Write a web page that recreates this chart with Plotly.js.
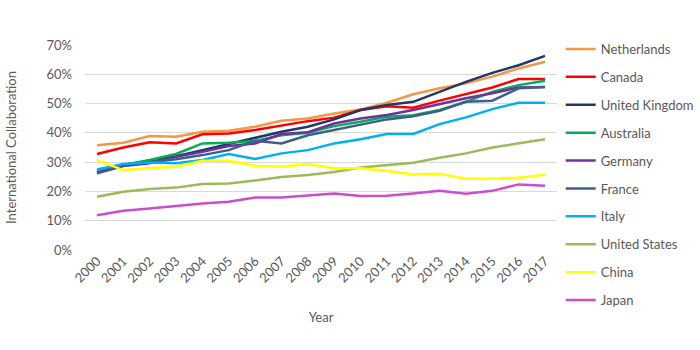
<!DOCTYPE html>
<html>
<head>
<meta charset="utf-8">
<script src="https://cdn.plot.ly/plotly-3.0.1.min.js"></script>
<style>html,body{margin:0;padding:0;background:#fff}#chart{width:700px;height:350px}</style>
</head>
<body>
<div id="chart"></div>
<script>
const years = ["2000","2001","2002","2003","2004","2005","2006","2007","2008","2009","2010","2011","2012","2013","2014","2015","2016","2017"];
const netherlands   = [0.358,0.366,0.389,0.387,0.404,0.407,0.421,0.441,0.449,0.466,0.480,0.503,0.532,0.552,0.569,0.592,0.620,0.643];
const canada        = [0.328,0.350,0.368,0.364,0.395,0.398,0.410,0.425,0.440,0.452,0.478,0.491,0.486,0.510,0.532,0.555,0.584,0.584];
const unitedKingdom = [0.265,0.288,0.305,0.320,0.341,0.362,0.381,0.404,0.421,0.446,0.478,0.495,0.506,0.540,0.574,0.605,0.631,0.663];
const australia     = [0.270,0.290,0.307,0.328,0.364,0.366,0.372,0.392,0.400,0.423,0.438,0.455,0.460,0.478,0.506,0.540,0.563,0.578];
const germany       = [0.262,0.287,0.296,0.318,0.335,0.355,0.364,0.396,0.402,0.432,0.449,0.461,0.478,0.498,0.518,0.535,0.555,0.557];
const france        = [0.265,0.290,0.300,0.310,0.324,0.341,0.373,0.364,0.392,0.410,0.427,0.446,0.457,0.475,0.506,0.510,0.552,0.557];
const italy         = [0.275,0.294,0.299,0.296,0.307,0.328,0.311,0.330,0.341,0.364,0.378,0.396,0.396,0.430,0.453,0.481,0.503,0.503];
const unitedStates  = [0.182,0.199,0.208,0.213,0.225,0.227,0.237,0.249,0.256,0.266,0.282,0.290,0.298,0.315,0.330,0.350,0.364,0.378];
const china         = [0.307,0.273,0.279,0.284,0.305,0.305,0.288,0.284,0.294,0.279,0.279,0.271,0.258,0.260,0.243,0.243,0.247,0.257];
const japan         = [0.119,0.134,0.142,0.151,0.159,0.165,0.179,0.179,0.185,0.193,0.184,0.185,0.193,0.202,0.192,0.202,0.224,0.219];

const names  = ["Netherlands","Canada","United Kingdom","Australia","Germany","France","Italy","United States","China","Japan"];
const series = [netherlands,canada,unitedKingdom,australia,germany,france,italy,unitedStates,china,japan];
const colors = ["#F79646","#FF0000","#1F3864","#00B050","#7030A0","#3D5F8F","#00B0F0","#9BBB59","#FFFF00","#CC4DCC"];

const traces = series.map((vals,i)=>({
  x: years, y: vals, name: names[i], type: "scatter", mode: "lines",
  legendgroup: "g"+i,
  line: {color: colors[i], width: 2.5},
  hoverinfo: "skip"
}));

const font = {family: "Lato, 'Open Sans', sans-serif", size: 13, color: "#595959"};

const layout = {
  width: 700, height: 350,
  margin: {l: 85, r: 143, t: 45, b: 100},
  paper_bgcolor: "#fff", plot_bgcolor: "#fff",
  font: font,
  showlegend: true,
  legend: {
    xref: "container", yref: "container",
    x: 0.801, y: 1 - 34/350, xanchor: "left", yanchor: "top",
    tracegroupgap: 8, maxheight: 340,
    font: {family: font.family, size: 13, color: "#595959"},
    bgcolor: "rgba(0,0,0,0)", itemwidth: 30
  },
  xaxis: {
    type: "category", range: [-0.455, 17.455],
    tickangle: -45, showgrid: false, zeroline: false, showline: false,
    ticks: "", tickfont: {size: 13, color: "#595959"},
    title: {text: "Year", font: {size: 13, color: "#595959"}, standoff: 28}
  },
  yaxis: {
    range: [0, 0.7], dtick: 0.1, tickformat: ".0%",
    showgrid: true, gridcolor: "#D9D9D9", gridwidth: 1,
    zeroline: false, showline: false, ticks: "",
    ticklabelstandoff: 12,
    tickfont: {size: 13, color: "#595959"},
    title: {text: "International Collaboration", font: {size: 13, color: "#595959"}, standoff: 26}
  }
};

Plotly.newPlot("chart", traces, layout, {staticPlot: true, displayModeBar: false});
</script>
</body>
</html>
